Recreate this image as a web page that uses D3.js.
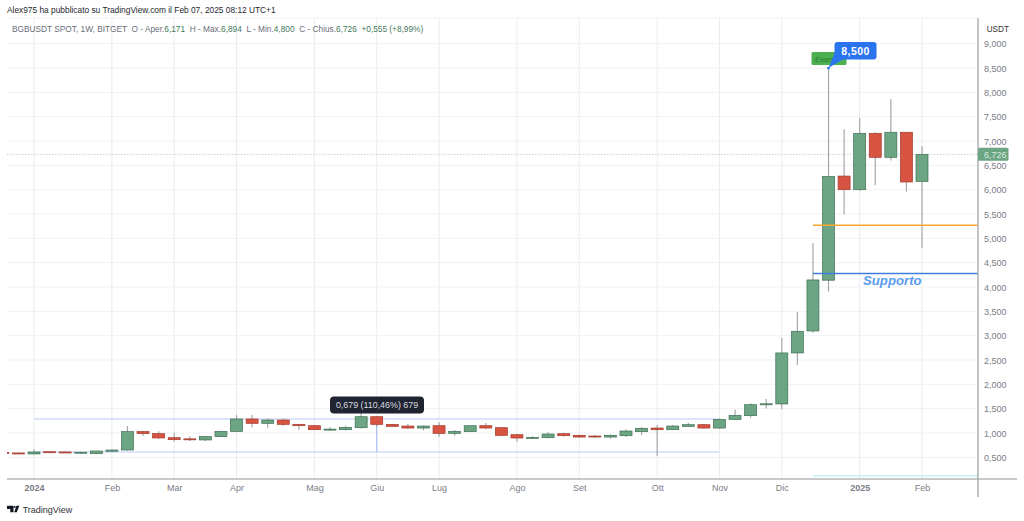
<!DOCTYPE html>
<html><head><meta charset="utf-8">
<script src="https://cdn.jsdelivr.net/npm/d3@7"></script>
<style>
html,body{margin:0;padding:0;background:#fff;overflow:hidden}
text{font-family:"Liberation Sans",Arial,sans-serif}
</style></head><body><svg id="c" width="1024" height="521"></svg>
<script>
// Weekly candles, from the week of 18 Dec 2023
const opens  = [.60,.59,.57,.615,.61,.595,.575,.625,.651,1.028,.987,.904,.88,.857,.925,1.034,1.288,1.199,1.267,1.178,1.15,1.068,1.068,1.109,1.335,1.178,1.143,1.102,1.15,.993,1.027,1.15,1.109,.965,.90,.904,.986,.952,.938,.917,.945,1.027,1.102,1.068,1.136,1.171,1.102,1.28,1.356,1.60,1.597,2.645,3.097,4.14,6.28,6.0,7.158,6.665,7.18,6.171];
const highs  = [.62,.60,.665,.63,.625,.615,.635,.665,1.144,1.04,1.034,1.007,.932,.939,1.048,1.37,1.37,1.30,1.30,1.19,1.164,1.116,1.15,1.472,1.35,1.19,1.184,1.157,1.219,1.061,1.15,1.205,1.123,.979,.938,1.013,1.006,.965,.959,.972,1.075,1.123,1.164,1.157,1.212,1.185,1.30,1.479,1.609,1.698,2.953,3.487,4.898,8.5,7.24,7.48,7.18,7.857,7.18,6.894];
const lows   = [.58,.565,.56,.59,.59,.575,.565,.62,.637,.939,.884,.822,.836,.836,.918,1.02,1.117,1.109,1.15,1.068,1.054,1.04,1.054,1.095,1.13,1.123,1.089,1.054,.924,.945,1.02,1.075,.945,.821,.883,.89,.924,.904,.904,.883,.917,.959,.534,1.061,1.13,1.089,1.089,1.267,1.315,1.506,1.49,2.398,3.062,3.905,5.49,5.98,6.097,6.6,5.96,4.80];
const closes = [.59,.575,.61,.60,.60,.605,.63,.65,1.028,.987,.898,.863,.87,.925,1.034,1.288,1.199,1.267,1.178,1.15,1.068,1.08,1.116,1.335,1.178,1.136,1.102,1.143,.993,1.034,1.15,1.102,.952,.897,.91,.979,.945,.917,.917,.952,1.041,1.096,1.068,1.143,1.171,1.102,1.28,1.363,1.582,1.60,2.645,3.09,4.145,6.27,6.0,7.158,6.665,7.18,6.158,6.726];

const priceTicks = [.5,1,1.5,2,2.5,3,3.5,4,4.5,5,5.5,6,6.5,7,7.5,8,8.5,9];
const timeTicks = ["2024-01-01","2024-02-05","2024-03-04","2024-04-01","2024-05-06","2024-06-03","2024-07-01","2024-08-05","2024-09-02","2024-10-07","2024-11-04","2024-12-02","2025-01-06","2025-02-03"];
const timeLabels = ["2024","Feb","Mar","Apr","Mag","Giu","Lug","Ago","Set","Ott","Nov","Dic","2025","Feb"];
const lastClose = 6.726, orangeLevel = 5.268, supportLevel = 4.28, bottomLevel = 0.118, eventPrice = 8.5;
const measureTop = 1.288, measureBottom = 0.61;

const pane = {l:7, r:978, t:18, b:479};
const parse = d3.utcParse("%Y-%m-%d");
const weeks = d3.utcMonday.range(parse("2023-12-18"), parse("2025-02-04"));
const x = d3.scaleUtc().domain([parse("2024-01-01"), parse("2025-02-03")]).range([34, 922]);
const y = d3.scaleLinear().domain([1, 9]).range([433, 43.7]);
const svg = d3.select("#c");
const bw = 12;

svg.append("defs").append("clipPath").attr("id","clip").append("rect")
  .attr("x",pane.l).attr("y",pane.t).attr("width",pane.r-pane.l).attr("height",pane.b-pane.t);

// grid
const grid = svg.append("g").attr("stroke","#eff1f3").attr("stroke-width",1);
grid.selectAll(".h").data(priceTicks).join("line").attr("x1",pane.l).attr("x2",pane.r)
  .attr("y1",d=>y(d)).attr("y2",d=>y(d));
grid.selectAll(".v").data(timeTicks).join("line").attr("y1",pane.t).attr("y2",pane.b)
  .attr("x1",d=>x(parse(d))).attr("x2",d=>x(parse(d))).attr("stroke","#e9ecf0");
grid.append("line").attr("x1",pane.l).attr("x2",pane.r).attr("y1",pane.t).attr("y2",pane.t);

// last price line
svg.append("line").attr("x1",pane.l).attr("x2",pane.r).attr("y1",y(lastClose)).attr("y2",y(lastClose))
  .attr("stroke","#c4d2ca").attr("stroke-width",1).attr("stroke-dasharray","1.5 1.5");

// measure tool
const m = svg.append("g").attr("stroke","#bcc8f2").attr("stroke-width",1.2);
const mx0 = x(parse("2024-01-01")), mx1 = x(parse("2024-11-04")), mxc = x(parse("2024-06-03"));
m.append("line").attr("x1",mx0).attr("x2",mx1).attr("y1",y(measureTop)).attr("y2",y(measureTop));
m.append("line").attr("x1",mx0).attr("x2",mx1).attr("y1",y(measureBottom)).attr("y2",y(measureBottom));
m.append("line").attr("x1",mxc).attr("x2",mxc).attr("y1",y(measureTop)).attr("y2",y(measureBottom)).attr("stroke","#a9c0ee");

// candles
const cg = svg.append("g").attr("clip-path","url(#clip)");
const idx = d3.range(opens.length);
cg.selectAll(".w").data(idx).join("line")
  .attr("x1",i=>x(weeks[i])).attr("x2",i=>x(weeks[i]))
  .attr("y1",i=>y(highs[i])).attr("y2",i=>y(lows[i]))
  .attr("stroke","#a4a8a9").attr("stroke-width",1.2);
cg.selectAll(".b").data(idx).join("rect")
  .attr("x",i=>x(weeks[i])-bw/2).attr("width",bw)
  .attr("y",i=>y(Math.max(opens[i],closes[i])))
  .attr("height",i=>Math.max(1,Math.abs(y(opens[i])-y(closes[i]))))
  .attr("fill",i=>closes[i]>=opens[i]?"#6ba583":"#d75442")
  .attr("stroke",i=>closes[i]>=opens[i]?"#3f6f55":"#a33a2c").attr("stroke-width",.7);

// horizontal levels
const lx = x(parse("2024-12-16"));
svg.append("line").attr("x1",lx).attr("x2",pane.r).attr("y1",y(orangeLevel)).attr("y2",y(orangeLevel)).attr("stroke","#f7a732").attr("stroke-width",1.5);
svg.append("line").attr("x1",lx).attr("x2",pane.r).attr("y1",y(supportLevel)).attr("y2",y(supportLevel)).attr("stroke","#3f7fdc").attr("stroke-width",1.5);
svg.append("line").attr("x1",lx).attr("x2",pane.r).attr("y1",y(bottomLevel)).attr("y2",y(bottomLevel)).attr("stroke","#bdeaf5").attr("stroke-width",1.4);
svg.append("text").attr("x",892.3).attr("y",284.5).attr("text-anchor","middle")
  .attr("font-size",13.2).attr("font-style","italic").attr("font-weight",700).attr("fill","#5b9cf0").text("Supporto");

// axes frame
svg.append("line").attr("x1",pane.l).attr("x2",1017).attr("y1",pane.b).attr("y2",pane.b).attr("stroke","#8f9296").attr("stroke-width",1);
svg.append("line").attr("x1",pane.r).attr("x2",pane.r).attr("y1",pane.t).attr("y2",497).attr("stroke","#a9abae").attr("stroke-width",1.4);

const yAxis = d3.axisRight(y).tickValues(priceTicks).tickSize(0).tickPadding(0)
  .tickFormat(d=>d3.format(",.3f")(d).replace(".",","));
const ya = svg.append("g").attr("transform","translate(984,0)").call(yAxis);
ya.select(".domain").remove();
ya.selectAll("text").attr("font-size",9).attr("fill","#7a7d85").attr("dy","0.35em");

const xAxis = d3.axisBottom(x).tickValues(timeTicks.map(parse)).tickSize(0).tickPadding(0)
  .tickFormat((d,i)=>timeLabels[i]);
const xa = svg.append("g").attr("transform",`translate(0,${pane.b+6})`).call(xAxis);
xa.select(".domain").remove();
xa.selectAll("text").attr("font-size",9).attr("fill","#7a7d85")
  .attr("font-weight",(d,i)=>/^\d/.test(timeLabels[i])?700:400);

svg.append("text").attr("x",986.7).attr("y",32).attr("font-size",8.2).attr("fill","#333").text("USDT");

// last price tag
svg.append("rect").attr("x",978).attr("y",y(lastClose)-6.5).attr("width",30.5).attr("height",13).attr("rx",1.5).attr("fill","#6ba583");
svg.append("text").attr("x",984).attr("y",y(lastClose)+3.2).attr("font-size",9).attr("fill","#dcebe2").text("6,726");

// header
svg.append("text").attr("x",7).attr("y",13).attr("font-size",8.35).attr("fill","#26282e")
  .text("Alex975 ha pubblicato su TradingView.com il Feb 07, 2025 08:12 UTC+1");
const hd = svg.append("text").attr("x",12).attr("y",31.5).attr("font-size",8.3).attr("fill","#6a6d78").attr("xml:space","preserve");
[["BGBUSDT SPOT, 1W, BITGET  O - Aper.",0],["6,171",1],["  H - Max.",0],["6,894",1],["  L - Min.",0],["4,800",1],["  C - Chius.",0],["6,726",1],["  +0,555 (+8,99%)",1]]
 .forEach(([t,g])=>hd.append("tspan").attr("fill",g?"#3f7a5a":"#6a6d78").text(t));

// measure tooltip
svg.append("rect").attr("x",330).attr("y",396.5).attr("width",94).attr("height",17).attr("rx",4).attr("fill","#1f2430");
svg.append("text").attr("x",377).attr("y",408).attr("text-anchor","middle").attr("font-size",8.9).attr("fill","#d9dbe0").text("0,679 (110,46%) 679");

// event flag and callout
const ex = x(parse("2024-12-16")) + 15.6, ey = y(eventPrice);
svg.append("rect").attr("x",811.5).attr("y",52).attr("width",35).attr("height",13).attr("rx",1.5).attr("fill","#4caf50");
svg.append("text").attr("x",815).attr("y",61.5).attr("font-size",8).attr("fill","#2b7a33").text("Event");
svg.append("path").attr("d",`M${ex},${ey} L835,52 L845,58 Z`).attr("fill","#2a74f0");
svg.append("circle").attr("cx",ex).attr("cy",ey).attr("r",1.4).attr("fill","#2a74f0");
svg.append("rect").attr("x",834.5).attr("y",42).attr("width",42).attr("height",17.5).attr("rx",3).attr("fill","#2a74f0");
svg.append("text").attr("x",855.5).attr("y",54.5).attr("text-anchor","middle").attr("font-size",10.5).attr("font-weight",700).attr("fill","#fff").attr("letter-spacing",".4").text("8,500");

// footer
svg.append("path").attr("d","M7 505.8h6.5v6.5h-3.2v-3.4H7z M14.2 512.3 L16.4 505.8h2.9l-2.5 6.5z").attr("fill","#131722");
svg.append("circle").attr("cx",14.6).attr("cy",507).attr("r",1.1).attr("fill","#131722");
svg.append("text").attr("x",22.7).attr("y",512.5).attr("font-size",9).attr("fill","#30333a").text("TradingView");
</script></body></html>
